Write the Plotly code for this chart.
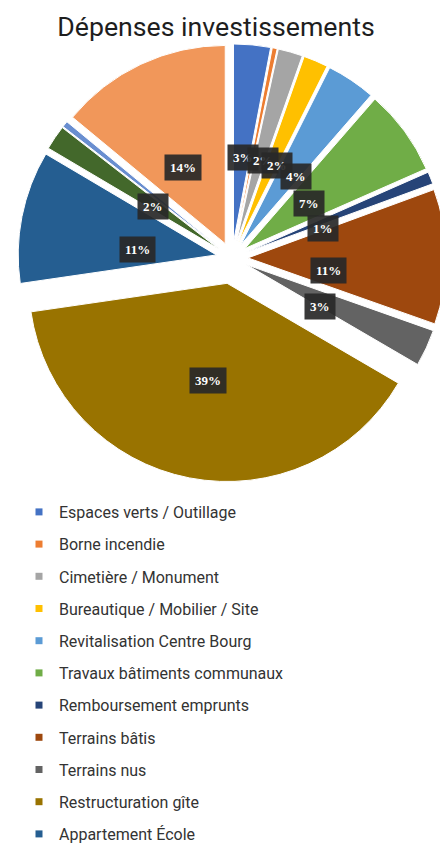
import math
import plotly.graph_objects as go

W, H = 448, 848

labels = [
    "Espaces verts / Outillage", "Borne incendie", "Cimetière / Monument",
    "Bureautique / Mobilier / Site", "Revitalisation Centre Bourg",
    "Travaux bâtiments communaux", "Remboursement emprunts", "Terrains bâtis",
    "Terrains nus", "Restructuration gîte", "Appartement École",
    "Voirie", "Éclairage public", "Acquisitions diverses",
]
values = [3.0, 0.4, 2.0, 2.0, 4.0, 7.0, 1.0, 11.0, 3.0, 39.3, 10.8, 2.0, 0.5, 14.0]
colors = [
    "#4472C4", "#ED7D31", "#A5A5A5", "#FFC000", "#5B9BD5", "#70AD47",
    "#264478", "#9E480E", "#636363", "#997300", "#255E91",
    "#43682B", "#698ED0", "#F1975A",
]
pulls = [0.08] * 9 + [0.13] + [0.08] * 4
legend_count = 11  # entries visible in the legend

dom_x = [0.0, 1.0]
cy_px = 250
dom_y = [1 - (cy_px + W / 2) / H, 1 - (cy_px - W / 2) / H]

fig = go.Figure()
fig.add_trace(go.Pie(
    labels=labels, values=values, sort=False, direction="clockwise",
    rotation=0, pull=pulls, textinfo="none", hoverinfo="label+percent",
    marker=dict(colors=colors, line=dict(color="white", width=1)),
    showlegend=False, domain=dict(x=dom_x, y=dom_y),
))

# legend entries (first 11 categories)
for i in range(legend_count):
    fig.add_trace(go.Scatter(
        x=[None], y=[None], mode="markers", name=labels[i],
        legendgroup=f"g{i}",
        marker=dict(symbol="square", size=7, color=colors[i]),
    ))

# percentage label boxes, placed from the pie geometry
total = sum(values)
bw = (dom_x[1] - dom_x[0]) * W
bh = (dom_y[1] - dom_y[0]) * H
r = min(bw, bh) / (2 + 2 * max(pulls))
cx = (dom_x[0] + dom_x[1]) / 2 * W
cy = (1 - (dom_y[0] + dom_y[1]) / 2) * H
cum = 0.0
annotations = []
for v, p in zip(values, pulls):
    frac = v / total
    theta = 2 * math.pi * (cum + frac / 2)
    cum += frac
    pct = round(frac * 100)
    if pct < 1:
        continue
    ux, uy = math.sin(theta), -math.cos(theta)
    d = p * r + 0.5 * r
    px, py = cx + ux * d, cy + uy * d
    annotations.append(dict(
        x=px / W, y=1 - py / H, xref="paper", yref="paper",
        text=f"<b>{pct}%</b>", showarrow=False,
        font=dict(family="Liberation Serif", size=13, color="white"),
        bgcolor="rgba(40,40,40,0.92)", borderpad=5,
    ))

fig.update_layout(
    width=W, height=H,
    margin=dict(l=0, r=0, t=0, b=0),
    paper_bgcolor="white", plot_bgcolor="white",
    title=dict(text="Dépenses investissements", x=208 / W, xanchor="center",
               y=1 - 19 / H, yanchor="middle", yref="container",
               font=dict(family="Roboto", size=26.7, color="#1e1e1e")),
    xaxis=dict(visible=False), yaxis=dict(visible=False),
    legend=dict(x=11 / W, xanchor="left", y=1 - 487 / H, yanchor="top",
                font=dict(family="Roboto", size=16, color="#333333"),
                tracegroupgap=8.4, bgcolor="rgba(0,0,0,0)"),
    annotations=annotations,
)

fig.write_html("out.html")
